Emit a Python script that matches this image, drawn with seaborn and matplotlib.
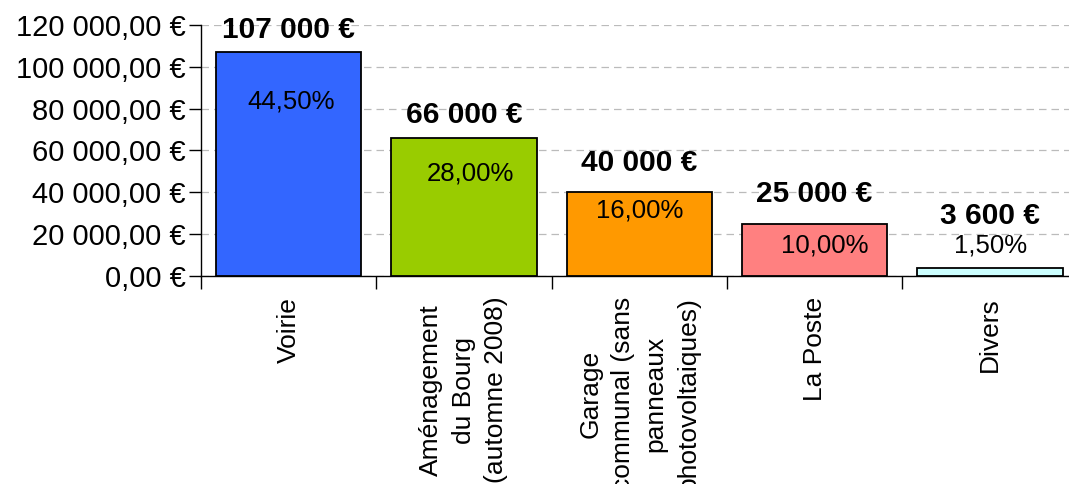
"""
plot.py - bar chart of budget items (euros) with share of total.
"""
import numpy as np
import pandas as pd
import seaborn as sns
import matplotlib as mpl
import matplotlib.pyplot as plt
from matplotlib.ticker import FuncFormatter, FixedLocator

categories = ["Voirie",
              "Aménagement\ndu Bourg\n(automne 2008)",
              "Garage\ncommunal (sans\npanneaux\nphotovoltaiques)",
              "La Poste",
              "Divers"]
amounts = [107000, 66000, 40000, 25000, 3600]
shares = [44.5, 28.0, 16.0, 10.0, 1.5]
colors = ["#3366FF", "#99CC00", "#FF9900", "#FF8080", "#CCFFFF"]

# label offsets in pixels from the top of each bar (value above, share inside)
value_dy = [22, 23, 29, 30, 52]
share_dx = [2, 6, 0, 10, 1]
share_dy = [-49, -36, -18, -22, 23]

sns.set_style("white")
plt.rcParams['font.family'] = ['Liberation Sans', 'DejaVu Sans']
plt.rcParams['text.color'] = 'black'
plt.rcParams['xtick.color'] = 'black'
plt.rcParams['ytick.color'] = 'black'
plt.rcParams['axes.labelcolor'] = 'black'

df = pd.DataFrame({'cat': categories, 'amount': amounts})

fig = plt.figure(figsize=(10.69, 4.84), dpi=100)
ax = fig.add_axes([0.188, 0.4298, 0.82, 0.5185])
sns.barplot(data=df, x='cat', y='amount', hue='cat', palette=colors,
            legend=False, width=0.83, edgecolor='black', linewidth=1.3,
            saturation=1, ax=ax, zorder=3)

ax.set_ylim(0, 120000)
ax.set_xlim(-0.5, len(categories) - 0.5)
ax.set_yticks(np.arange(0, 120001, 20000))
ax.yaxis.set_major_formatter(FuncFormatter(
    lambda v, p: f"{v:,.2f}".replace(",", " ").replace(".", ",") + " €"))
ax.yaxis.grid(True, color='#bbbbbb', linestyle=(0, (6, 4)), linewidth=0.9, zorder=0)
ax.xaxis.grid(False)

for side in ['top', 'right']:
    ax.spines[side].set_visible(False)
for side in ['left', 'bottom']:
    ax.spines[side].set_color('black')
    ax.spines[side].set_linewidth(1.0)

ax.tick_params(axis='y', which='major', direction='out', length=9, width=1,
               labelsize=21, pad=2, left=True)
ax.xaxis.set_minor_locator(FixedLocator(np.arange(-0.5, len(categories), 1.0)))
ax.tick_params(axis='x', which='minor', direction='out', length=9, width=1, bottom=True)
ax.tick_params(axis='x', which='major', length=0, labelsize=19, pad=15)
for lbl in ax.get_xticklabels():
    lbl.set_rotation(90)
    lbl.set_ha('center')
    lbl.set_va('top')
    lbl.set_multialignment('center')
    lbl.set_linespacing(1.45)
ax.set_xlabel("")
ax.set_ylabel("")

for i, (a, s) in enumerate(zip(amounts, shares)):
    ax.annotate(f"{a:,.0f}".replace(",", " ") + " €", (i, a),
                xytext=(0, value_dy[i]), textcoords='offset pixels',
                ha='center', va='center', fontsize=21.5, fontweight='bold')
    ax.annotate(f"{s:.2f}".replace(".", ",") + "%", (i, a),
                xytext=(share_dx[i], share_dy[i]), textcoords='offset pixels',
                ha='center', va='center', fontsize=18.5)

fig.savefig("out.png", dpi=100)
